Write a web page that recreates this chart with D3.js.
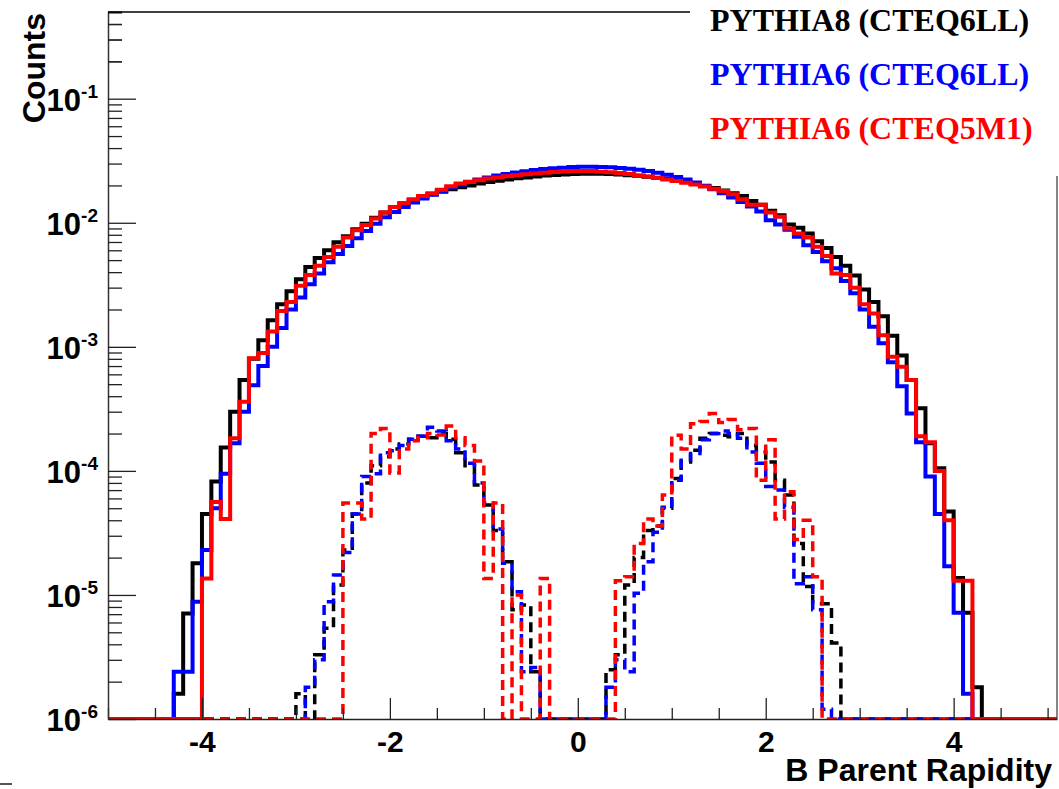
<!DOCTYPE html>
<html><head><meta charset="utf-8">
<script src="https://cdn.jsdelivr.net/npm/d3@7"></script>
<style>body{margin:0;background:#fff}</style>
</head><body>
<svg id="c" width="1059" height="789"></svg>
<script>
// ---------------- data ----------------
const binWidth = 0.1;
const xDomain = [-5, 5.1];
const yDomain = [1e-6, 0.5];
const xTickValues = [-4, -2, 0, 2, 4];
const yTickExponents = [-6, -5, -4, -3, -2, -1];
const legendLabels = ["PYTHIA8 (CTEQ6LL)", "PYTHIA6 (CTEQ6LL)", "PYTHIA6 (CTEQ5M1)"];
const seriesColors = ["#000000", "#0000ff", "#ff0000"];
const xTitle = "B Parent Rapidity";
const yTitle = "Counts";

// solid histograms: low edge of first filled bin, then bin contents (0.1 wide bins)
const allStart = [-4.3, -4.3, -4.0];
const allP8 = [1.6e-6,7.1e-6,1.8e-5,4.5e-5,8.2e-5,1.54e-4,3.0e-4,5.4e-4,8.0e-4,1.13e-3,
  1.64e-3,2.2e-3,2.8e-3,3.5e-3,4.4e-3,5.2e-3,6.0e-3,6.95e-3,7.8e-3,8.85e-3,
  9.8e-3,0.0110,0.0121,0.0134,0.0141,0.0152,0.0162,0.0170,0.0178,0.0186,
  0.0193,0.0200,0.0207,0.0213,0.0218,0.0223,0.0228,0.0232,0.0236,0.0240,
  0.0243,0.0245,0.0247,
  0.0248,0.0248,0.0248,0.0247,0.0245,0.0242,0.0239,0.0235,0.0231,0.0226,
  0.0220,0.0214,0.0207,0.0199,0.0191,0.0182,0.0173,0.0164,0.0150,0.0140,
  0.0125,0.0115,0.0097,0.0091,0.0082,0.0071,0.00625,0.0053,0.0045,0.00375,
  0.0029,0.0023,0.00176,0.00123,0.00085,0.00054,0.00032,1.67e-4,1.05e-4,4.7e-5,
  1.37e-5,7.2e-6,1.8e-6];
const allP6LL = [2.4e-6,2.4e-6,8.8e-6,2.3e-5,5.0e-5,9.5e-5,1.67e-4,3.0e-4,4.9e-4,7.0e-4,
  1.0e-3,1.42e-3,2.0e-3,2.5e-3,3.2e-3,3.9e-3,4.8e-3,5.6e-3,6.5e-3,7.5e-3,
  8.6e-3,9.8e-3,0.0111,0.0122,0.0134,0.0146,0.0157,0.0168,0.0180,0.0192,
  0.0203,0.0214,0.0223,0.0232,0.0240,0.0247,0.0254,0.0260,0.0266,0.0271,
  0.0275,0.0278,0.0281,
  0.0283,0.0283,0.0282,0.0280,0.0277,0.0273,0.0268,0.0261,0.0253,0.0244,
  0.0234,0.0223,0.0211,0.0198,0.0186,0.0173,0.0160,0.0147,0.0135,0.0123,
  0.0105,0.0097,0.0088,0.0077,0.0066,0.0058,0.0049,0.0043,0.0034,0.0027,
  0.0020,0.00145,0.00107,7.5e-4,4.8e-4,2.9e-4,1.7e-4,9.0e-5,4.5e-5,1.7e-5,
  7.2e-6,1.6e-6];
const allP6M1 = [1.36e-5,5.6e-5,4.1e-5,1.83e-4,3.6e-4,8.1e-4,8.9e-4,1.33e-3,1.94e-3,2.3e-3,
  3.1e-3,3.8e-3,4.5e-3,5.3e-3,6.4e-3,7.6e-3,8.7e-3,9.6e-3,0.0108,0.0121,
  0.0134,0.0144,0.0155,0.0164,0.0173,0.0185,0.0197,0.0207,0.0213,0.0220,
  0.0227,0.0232,0.0237,0.0242,0.0246,0.0250,0.0253,0.0256,0.0259,0.0261,
  0.0262,0.0261,0.0258,0.0255,0.0252,0.0247,0.0241,0.0236,0.0230,0.0223,
  0.0217,0.0210,0.0203,0.0196,0.0188,0.0180,0.0170,0.0155,0.0140,0.0140,
  0.0121,0.0112,0.0090,0.0082,0.0076,0.0064,0.0054,0.0039,0.0038,0.0030,
  0.0022,0.00186,0.00124,8.3e-4,6.9e-4,5.4e-4,1.9e-4,1.7e-4,1.0e-4,4.0e-5,
  1.3e-5,1.3e-5];

// dashed histograms (selected B parents)
const selStart = [-3.0, -2.9, -2.5];
const selP8 = [1.6e-6,0,3.3e-6,5.4e-6,1.2e-5,2.3e-5,4.5e-5,8.0e-5,1.1e-4,1.3e-4,
  1.5e-4,1.65e-4,1.8e-4,1.9e-4,1.85e-4,2.0e-4,1.8e-4,1.4e-4,1.1e-4,7.7e-5,
  5.3e-5,3.3e-5,1.85e-5,7.6e-6,8.3e-6,2.4e-6,0,0,0,0,
  0,0,0,2.5e-6,3.3e-6,1.2e-5,2.0e-5,3.3e-5,3.6e-5,5.0e-5,
  8.7e-5,1.18e-4,1.47e-4,1.83e-4,2.0e-4,1.94e-4,1.88e-4,2.0e-4,1.6e-4,1.42e-4,
  1.18e-4,8.4e-5,6.4e-5,2.6e-5,1.17e-5,8.5e-6,8.5e-6,4.1e-6];
const selP6LL = [1.8e-6,3.0e-6,8.8e-6,1.45e-5,2.2e-5,4.5e-5,9.0e-5,9.5e-5,1.4e-4,1.45e-4,
  1.6e-4,1.8e-4,1.9e-4,2.25e-4,2.1e-4,1.75e-4,1.5e-4,1.15e-4,8.0e-5,5.5e-5,
  3.4e-5,1.8e-5,1.06e-5,2.4e-6,2.6e-6,0,0,0,0,0,
  0,0,1.8e-6,3.0e-6,2.4e-6,1.03e-5,1.85e-5,3.2e-5,5.1e-5,8.4e-5,
  1.22e-4,1.38e-4,1.78e-4,2.0e-4,2.1e-4,2.0e-4,1.83e-4,1.42e-4,1.15e-4,7.5e-5,
  7.0e-5,5.1e-5,1.23e-5,1.4e-5,7.6e-6,1.2e-6];
const selP6M1 = [5.5e-5,5.5e-5,4.1e-5,2.0e-4,2.2e-4,9.6e-5,1.5e-4,1.75e-4,1.85e-4,2.0e-4,
  1.95e-4,2.3e-4,1.85e-4,1.6e-4,1.2e-4,1.36e-5,5.5e-5,0,1.0e-5,0,
  0,1.36e-5,0,0,0,0,0,0,0,1.3e-5,
  1.4e-5,2.6e-5,4.1e-5,3.6e-5,6.4e-5,1.94e-4,1.5e-4,2.4e-4,2.5e-4,2.9e-4,
  2.45e-4,2.6e-4,2.15e-4,2.2e-4,8.4e-5,1.78e-4,4.1e-5,6.8e-5,2.8e-5,4.0e-5,
  1.4e-5];

// ---------------- drawing ----------------
const W = 1059, H = 789;
const L = 108, R = 1057, T = 12, B = 719;
const svg = d3.select("#c");
const x = d3.scaleLinear().domain(xDomain).range([L, R]);
const y = d3.scaleLog().domain(yDomain).range([B, T]).clamp(true);
const sans = "'Liberation Sans', Arial, Helvetica, sans-serif";
const serif = "'Liberation Serif', 'Times New Roman', serif";

svg.append("defs").append("clipPath").attr("id","frame")
  .append("rect").attr("x", L).attr("y", T).attr("width", R - L).attr("height", B - T);

function stepPath(start, vals) {
  const n = Math.round((xDomain[1] - xDomain[0]) / binWidth);
  const full = new Array(n).fill(0);
  const off = Math.round((start - xDomain[0]) / binWidth);
  vals.forEach((v, i) => { if (off + i >= 0 && off + i < n) full[off + i] = v; });
  const yy = v => (v > yDomain[0] ? y(v) : y(yDomain[0]));
  let d = `M${x(xDomain[0])},${yy(full[0])}`;
  for (let i = 0; i < n; i++) {
    d += `H${x(xDomain[0] + (i + 1) * binWidth)}`;
    if (i < n - 1) d += `V${yy(full[i + 1])}`;
  }
  return d;
}

const plot = svg.append("g").attr("clip-path", "url(#frame)");
const selSeries = [selP8, selP6LL, selP6M1];
const allSeries = [allP8, allP6LL, allP6M1];
selSeries.forEach((vals, i) => {
  plot.append("path").attr("d", stepPath(selStart[i], vals))
    .attr("fill", "none").attr("stroke", seriesColors[i])
    .attr("stroke-width", 3.5).attr("stroke-dasharray", "10,6");
});
allSeries.forEach((vals, i) => {
  plot.append("path").attr("d", stepPath(allStart[i], vals))
    .attr("fill", "none").attr("stroke", seriesColors[i])
    .attr("stroke-width", 4);
});

// x axis
const xMinor = d3.range(-5, 5.01, 0.5).filter(v => !xTickValues.includes(v));
const gx = svg.append("g").attr("transform", `translate(0,${B})`);
gx.call(d3.axisBottom(x).tickValues(xMinor).tickSizeInner(-11).tickSizeOuter(0).tickFormat(""));
const gx2 = svg.append("g").attr("transform", `translate(0,${B})`);
gx2.call(d3.axisBottom(x).tickValues(xTickValues).tickSizeInner(-21).tickSizeOuter(0)
  .tickPadding(12).tickFormat(d => String(d)));
gx2.select(".domain").remove();
[gx, gx2].forEach(g => {
  g.selectAll("line").attr("stroke", "#222").attr("stroke-width", 1.3);
  g.select(".domain").attr("stroke", "#222").attr("stroke-width", 1.5);
});
gx2.selectAll("text").attr("font-family", sans).attr("font-weight", "bold")
  .attr("font-size", 30).attr("fill", "#000");

// y axis
const yMinor = [];
yTickExponents.forEach(e => { for (let m = 2; m <= 9; m++) yMinor.push(m * Math.pow(10, e)); });
[0.2, 0.3, 0.4].forEach(v => yMinor.push(v));
const yMajor = yTickExponents.map(e => Math.pow(10, e));
const gy = svg.append("g").attr("transform", `translate(${L},0)`);
gy.call(d3.axisLeft(y).tickValues(yMinor).tickSizeInner(-14).tickSizeOuter(0).tickFormat(""));
const gy2 = svg.append("g").attr("transform", `translate(${L},0)`);
gy2.call(d3.axisLeft(y).tickValues(yMajor).tickSizeInner(-28).tickSizeOuter(0).tickFormat(""));
gy2.select(".domain").remove();
[gy, gy2].forEach(g => {
  g.selectAll("line").attr("stroke", "#222").attr("stroke-width", 1.3);
  g.select(".domain").attr("stroke", "#333").attr("stroke-width", 1.5);
});
const ylab = svg.append("g").selectAll("g").data(yTickExponents).join("g")
  .attr("transform", e => `translate(0,${y(Math.pow(10, e))})`);
ylab.append("text").attr("x", 81).attr("y", 12).attr("text-anchor", "end")
  .attr("font-family", sans).attr("font-weight", "bold").attr("font-size", 31).text("10");
ylab.append("text").attr("x", 98).attr("y", -1).attr("text-anchor", "end")
  .attr("font-family", sans).attr("font-weight", "bold").attr("font-size", 19).text(e => String(e));

// frame lines (top and right), partly hidden by legend box
svg.append("line").attr("x1", L).attr("x2", R).attr("y1", T).attr("y2", T)
  .attr("stroke", "#000").attr("stroke-width", 1.3);
svg.append("line").attr("x1", R).attr("x2", R).attr("y1", T).attr("y2", B)
  .attr("stroke", "#444").attr("stroke-width", 1.3);

// legend
svg.append("rect").attr("x", 690).attr("y", 0).attr("width", W - 690).attr("height", 176).attr("fill", "#fff");
const legY = [31, 85, 139];
legendLabels.forEach((t, i) => {
  svg.append("text").attr("x", 710).attr("y", legY[i]).attr("fill", seriesColors[i])
    .attr("font-family", serif).attr("font-weight", "bold").attr("font-size", 32).text(t);
});

// titles
svg.append("text").attr("x", 1052).attr("y", 781).attr("text-anchor", "end")
  .attr("font-family", sans).attr("font-weight", "bold").attr("font-size", 32).text(xTitle);
svg.append("text").attr("transform", "translate(45,13) rotate(-90)").attr("text-anchor", "end")
  .attr("font-family", sans).attr("font-weight", "bold").attr("font-size", 32).text(yTitle);

svg.append("line").attr("x1", 0).attr("x2", 12).attr("y1", 784).attr("y2", 784)
  .attr("stroke", "#555").attr("stroke-width", 2);
</script>
</body></html>
